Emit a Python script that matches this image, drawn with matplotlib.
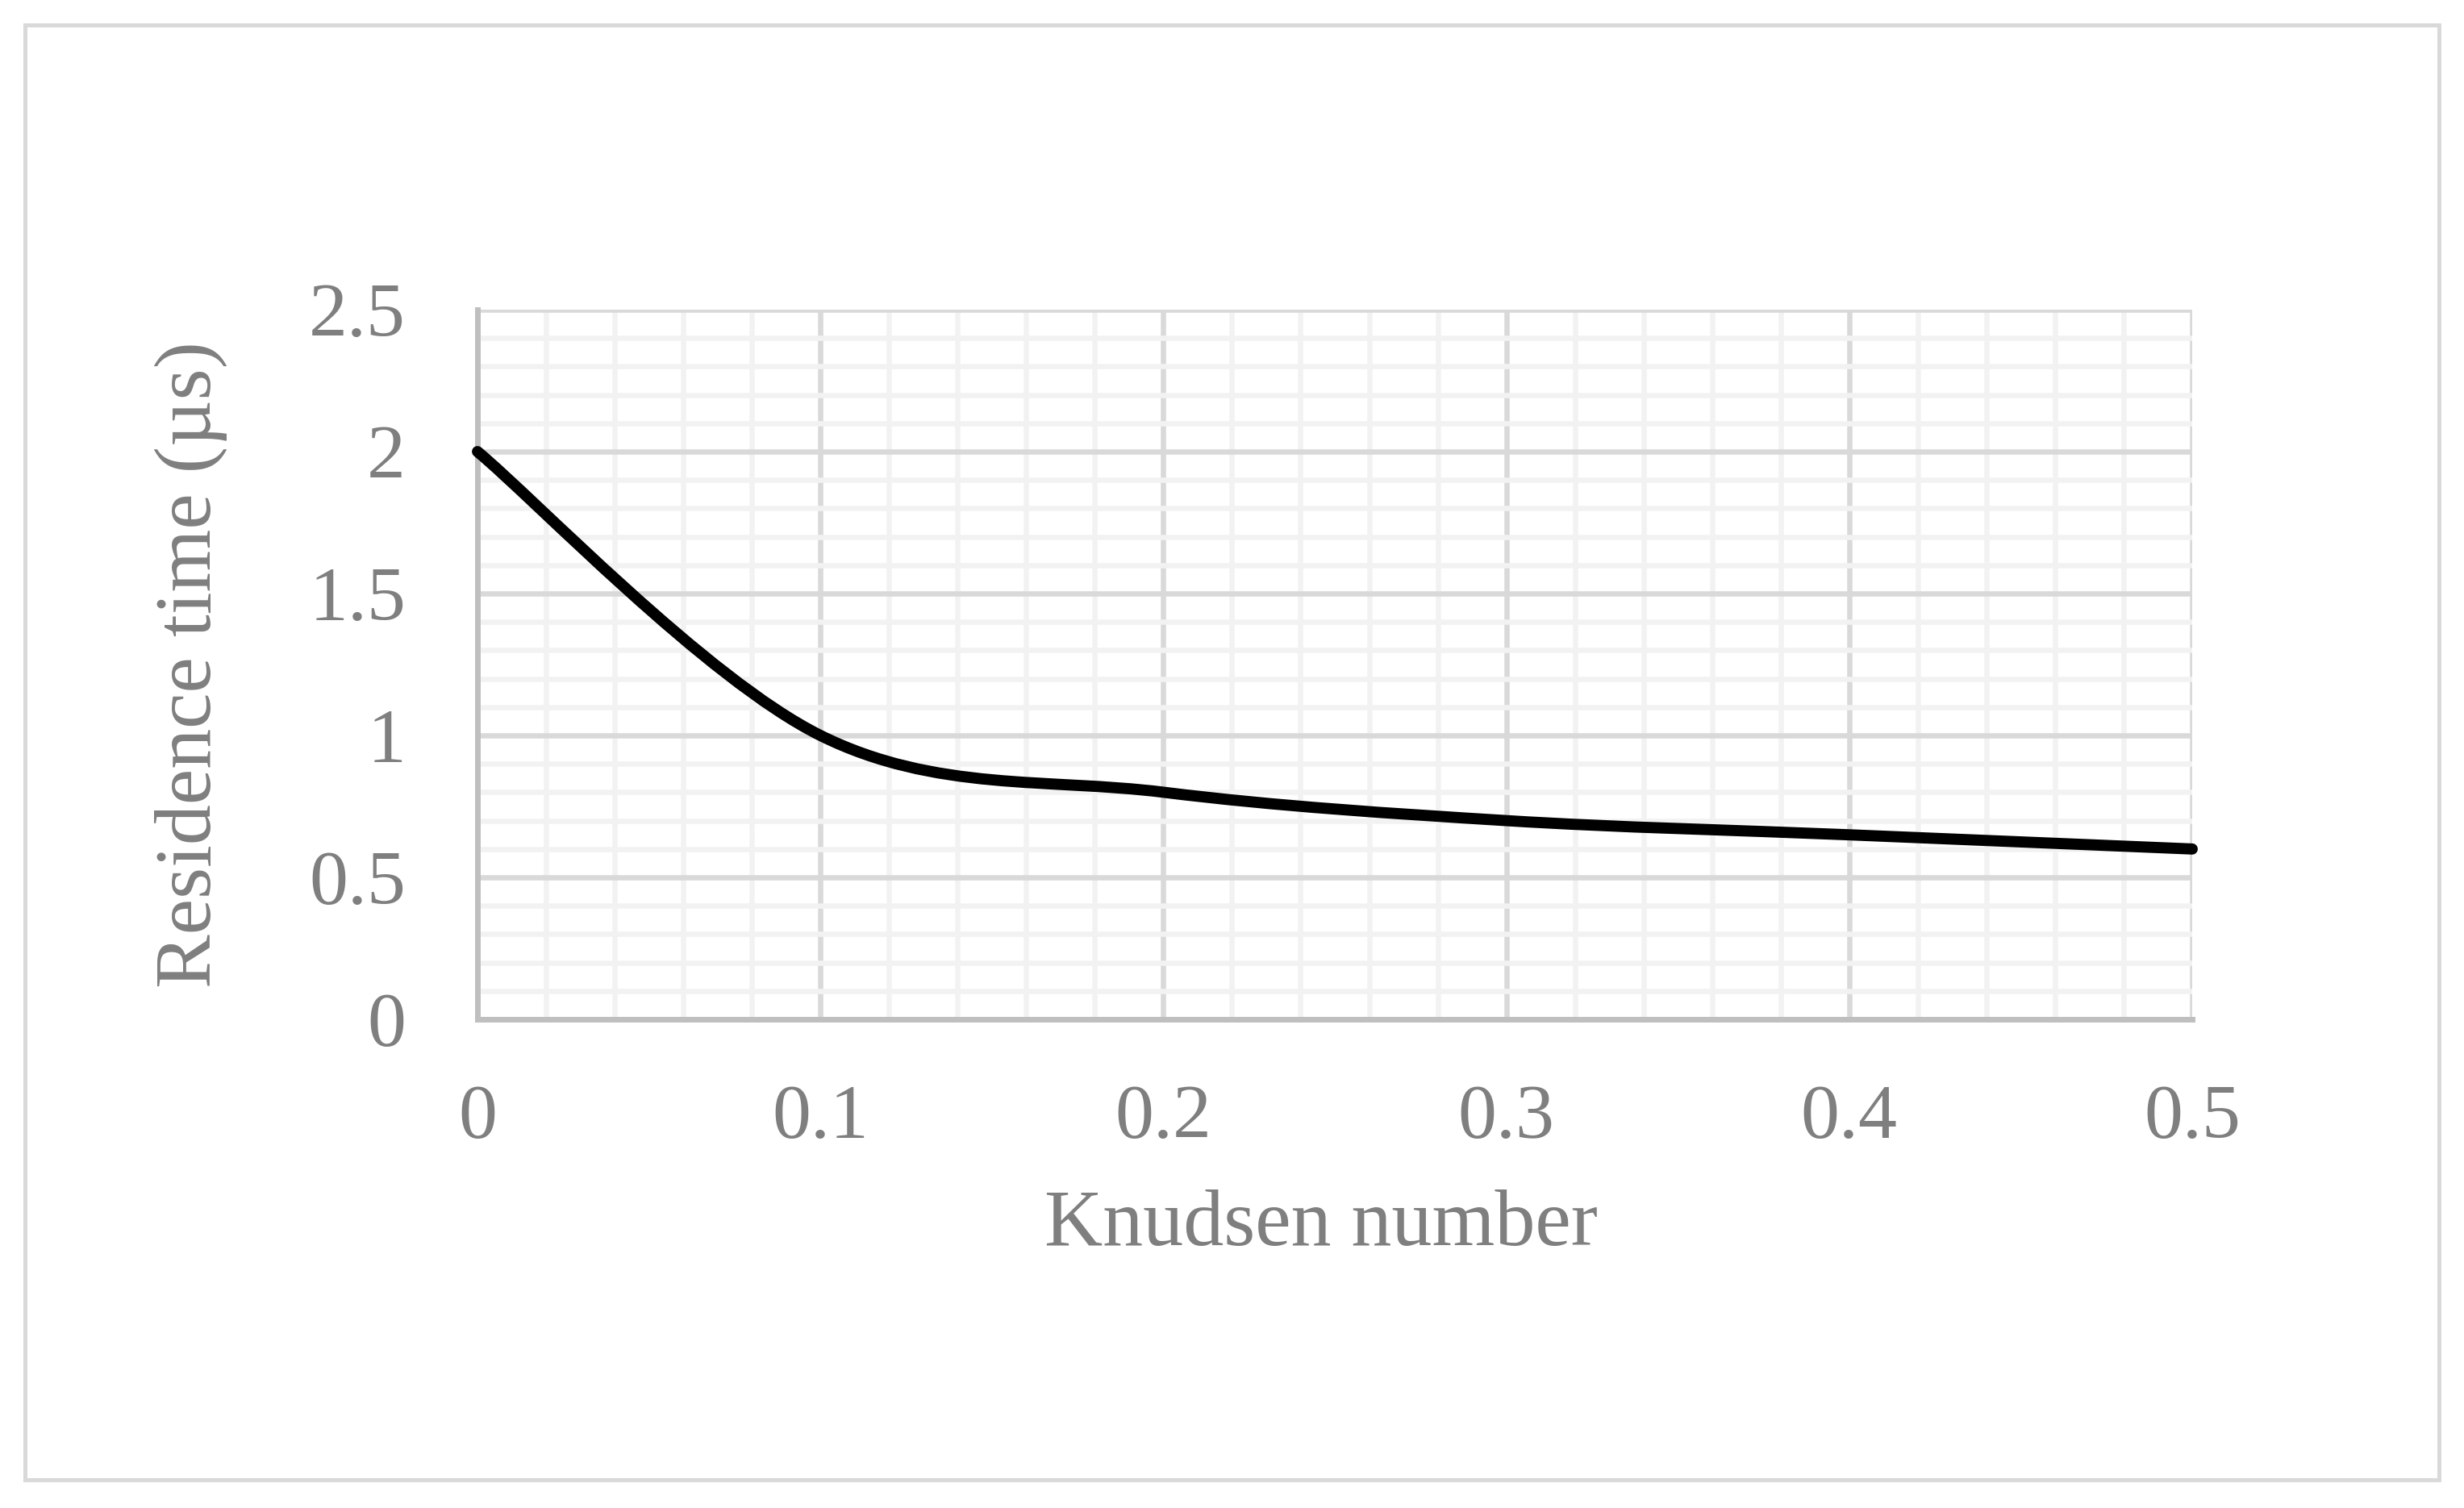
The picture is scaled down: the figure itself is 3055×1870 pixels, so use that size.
import matplotlib
matplotlib.use("Agg")
import matplotlib.pyplot as plt
from matplotlib.path import Path
from matplotlib.patches import PathPatch, Rectangle
from matplotlib.ticker import MultipleLocator
import numpy as np

# ---- data ----
knudsen = [0.0, 0.1, 0.2, 0.3, 0.4, 0.5]
residence_time = [2.0, 1.0, 0.8, 0.7, 0.65, 0.6]
x_ticks = [0, 0.1, 0.2, 0.3, 0.4, 0.5]
x_tick_labels = ["0", "0.1", "0.2", "0.3", "0.4", "0.5"]
y_ticks = [0, 0.5, 1, 1.5, 2, 2.5]
y_tick_labels = ["0", "0.5", "1", "1.5", "2", "2.5"]
x_title = "Knudsen number"
y_title = "Residence time (µs)"

W, H = 3055, 1870
DPI = 100
fig = plt.figure(figsize=(W / DPI, H / DPI), dpi=DPI)
fig.patch.set_facecolor("white")

# outer chart border
fig.patches.append(Rectangle((31 / W, 1 - 1835 / H), (3024 - 31) / W, (1835 - 31) / H,
                             transform=fig.transFigure, fill=False,
                             edgecolor="#d9d9d9", linewidth=3.6, zorder=0))

L, R, T, B = 592, 2718, 384, 1264
ax = fig.add_axes([L / W, 1 - B / H, (R - L) / W, (B - T) / H])
ax.set_xlim(0, 0.5)
ax.set_ylim(0, 2.5)

TXT = "#7f7f7f"
FONT = "Liberation Serif"

ax.set_xticks(x_ticks)
ax.set_xticklabels(x_tick_labels)
ax.set_yticks(y_ticks)
ax.set_yticklabels(y_tick_labels)
ax.xaxis.set_minor_locator(MultipleLocator(0.02))
ax.yaxis.set_minor_locator(MultipleLocator(0.1))
ax.tick_params(which="both", length=0)
ax.tick_params(axis="x", pad=58, labelsize=69, labelcolor=TXT)
ax.tick_params(axis="y", pad=64, labelsize=69, labelcolor=TXT)
for lab in ax.get_xticklabels() + ax.get_yticklabels():
    lab.set_fontfamily(FONT)

ax.grid(which="major", color="#d9d9d9", linewidth=4.7)
ax.grid(which="minor", color="#f2f2f2", linewidth=4.7)
ax.set_axisbelow(True)
for s in ["top", "right"]:
    ax.spines[s].set_visible(False)
for s in ["left", "bottom"]:
    ax.spines[s].set_color("#bfbfbf")
    ax.spines[s].set_linewidth(5)
    ax.spines[s].set_zorder(1.5)

# Excel-style smoothed line (Catmull-Rom as cubic Bezier)
pts = np.column_stack([knudsen, residence_time])
n = len(pts)
verts = [tuple(pts[0])]
codes = [Path.MOVETO]
for i in range(n - 1):
    p_prev = pts[i - 1] if i > 0 else pts[i]
    p0 = pts[i]
    p1 = pts[i + 1]
    p_next = pts[i + 2] if i + 2 < n else pts[i + 1]
    c1 = p0 + (p1 - p_prev) / 6.0
    c2 = p1 - (p_next - p0) / 6.0
    verts += [tuple(c1), tuple(c2), tuple(p1)]
    codes += [Path.CURVE4] * 3
patch = PathPatch(Path(verts, codes), facecolor="none", edgecolor="black",
                  linewidth=10, capstyle="round", joinstyle="round", zorder=3,
                  clip_on=False)
ax.add_patch(patch)

# axis titles
fig.text(1638 / W, 1 - 1520 / H, x_title, ha="center", va="center",
         fontsize=72, color=TXT, family=FONT)
fig.text(237 / W, 1 - 824 / H, y_title, ha="center", va="center", rotation=90,
         fontsize=72, color=TXT, family=FONT)

fig.savefig("out.png", dpi=DPI, facecolor="white")
